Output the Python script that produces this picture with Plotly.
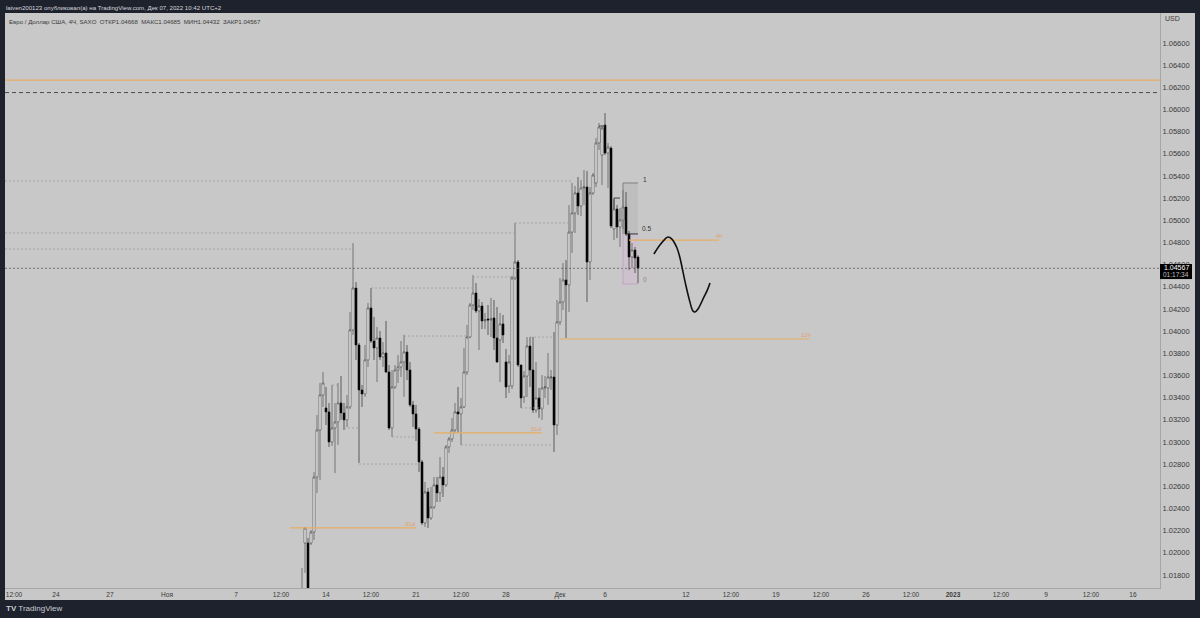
"""
EUR/USD 4h TradingView snapshot redrawn with Plotly
"""

import plotly.graph_objects as go

# Bars run left to right, one bar every 4 hours (bar 0 is the first visible candle)
opens = [1.01394, 1.02088, 1.02088, 1.02088, 1.02187, 1.02683, 1.03108, 1.03424, 1.03307, 1.03271, 1.03000, 1.03126, 1.03180, 1.03352, 1.03262, 1.03199, 1.03316, 1.04011, 1.04389,
         1.03875, 1.03469, 1.03433, 1.03740, 1.04209, 1.03911, 1.03848, 1.03938, 1.03767, 1.03803, 1.03631, 1.03126, 1.03496, 1.03649, 1.03677, 1.03722, 1.03812, 1.03649, 1.03334, 1.03253,
         1.03117, 1.02820, 1.02269, 1.02549, 1.02314, 1.02413, 1.02612, 1.02540, 1.02684, 1.02612, 1.02955, 1.03027, 1.03108, 1.03271, 1.03253, 1.03316, 1.03631, 1.03947, 1.04236, 1.04344,
         1.04182, 1.04227, 1.04092, 1.04110, 1.04101, 1.04119, 1.03938, 1.03920, 1.04065, 1.03722, 1.03505, 1.03505, 1.04480, 1.04624, 1.03695, 1.03406, 1.03595, 1.03866, 1.03649, 1.03288,
         1.03397, 1.03298, 1.03487, 1.03487, 1.03577, 1.03586, 1.03153, 1.04083, 1.04263, 1.04462, 1.04417, 1.04894, 1.05066, 1.05247, 1.05129, 1.05292, 1.05301, 1.04624, 1.05247, 1.05337,
         1.05698, 1.05589, 1.05860, 1.05607, 1.05652, 1.04922, 1.05102, 1.04940, 1.05003, 1.05120, 1.04877, 1.04669, 1.04732, 1.04668]
highs = [1.01863, 1.02232, 1.02133, 1.02205, 1.02728, 1.03243, 1.03532, 1.03631, 1.03496, 1.03352, 1.03514, 1.03352, 1.03532, 1.03595, 1.03352, 1.03424, 1.04173, 1.04795, 1.04443,
         1.03893, 1.03514, 1.03875, 1.04254, 1.04389, 1.04128, 1.04038, 1.04001, 1.03902, 1.04092, 1.03694, 1.03649, 1.03694, 1.03785, 1.03911, 1.03966, 1.03875, 1.03722, 1.03370, 1.03334,
         1.03135, 1.02838, 1.02639, 1.02585, 1.02594, 1.02684, 1.02684, 1.02864, 1.02774, 1.02973, 1.03045, 1.03216, 1.03352, 1.03496, 1.03397, 1.03848, 1.04056, 1.04254, 1.04506, 1.04434,
         1.04290, 1.04263, 1.04164, 1.04236, 1.04299, 1.04281, 1.04218, 1.04164, 1.04146, 1.03839, 1.03785, 1.04498, 1.04976, 1.04642, 1.03695, 1.03640, 1.03947, 1.03947, 1.03947, 1.03722,
         1.03487, 1.03604, 1.03595, 1.03803, 1.03649, 1.03992, 1.04281, 1.04480, 1.04615, 1.04642, 1.05138, 1.05337, 1.05310, 1.05391, 1.05364, 1.05454, 1.05445, 1.05301, 1.05427, 1.05743,
         1.05878, 1.05851, 1.05968, 1.05698, 1.05670, 1.05192, 1.05138, 1.05111, 1.05274, 1.05256, 1.04904, 1.04795, 1.04759, 1.04685]
lows = [1.01213, 1.01818, 1.01213, 1.02070, 1.02115, 1.02539, 1.02657, 1.03316, 1.03153, 1.02955, 1.02964, 1.02719, 1.02973, 1.03199, 1.03108, 1.03135, 1.03298, 1.03966, 1.03740,
        1.02811, 1.03316, 1.03406, 1.03677, 1.03893, 1.03740, 1.03541, 1.03740, 1.03677, 1.03622, 1.03108, 1.03045, 1.03478, 1.03532, 1.03586, 1.03406, 1.03559, 1.03316, 1.03135, 1.03009,
        1.02729, 1.02251, 1.02233, 1.02224, 1.02296, 1.02395, 1.02458, 1.02458, 1.02503, 1.02594, 1.02901, 1.03000, 1.03081, 1.03081, 1.02973, 1.03307, 1.03604, 1.03938, 1.04191, 1.04164,
        1.03830, 1.04019, 1.04019, 1.03965, 1.03947, 1.03830, 1.03713, 1.03541, 1.03893, 1.03397, 1.03442, 1.03478, 1.04462, 1.03677, 1.03307, 1.03352, 1.03406, 1.03496, 1.03262, 1.03262,
        1.03217, 1.03199, 1.03397, 1.03334, 1.03469, 1.02910, 1.03063, 1.04056, 1.04191, 1.03938, 1.04173, 1.04705, 1.04886, 1.05048, 1.05039, 1.05138, 1.04263, 1.04462, 1.05229, 1.05301,
        1.05635, 1.05319, 1.05589, 1.05292, 1.04931, 1.04822, 1.04840, 1.04759, 1.04922, 1.04859, 1.04552, 1.04570, 1.04525, 1.04432]
closes = [1.01664, 1.02223, 1.01349, 1.02187, 1.02683, 1.03108, 1.03424, 1.03532, 1.03271, 1.03000, 1.03126, 1.03180, 1.03352, 1.03262, 1.03199, 1.03316, 1.04011, 1.04389, 1.03875,
          1.03469, 1.03433, 1.03740, 1.04209, 1.03911, 1.03848, 1.03938, 1.03767, 1.03803, 1.03631, 1.03126, 1.03496, 1.03649, 1.03677, 1.03722, 1.03812, 1.03649, 1.03334, 1.03253, 1.03117,
          1.02820, 1.02269, 1.02549, 1.02314, 1.02413, 1.02612, 1.02540, 1.02684, 1.02612, 1.02955, 1.03027, 1.03108, 1.03271, 1.03253, 1.03316, 1.03631, 1.03947, 1.04236, 1.04344, 1.04182,
          1.04227, 1.04092, 1.04101, 1.04101, 1.04110, 1.03938, 1.03722, 1.04065, 1.03965, 1.03496, 1.03722, 1.04480, 1.04624, 1.03695, 1.03397, 1.03595, 1.03866, 1.03649, 1.03288, 1.03397,
          1.03298, 1.03487, 1.03496, 1.03586, 1.03586, 1.03153, 1.04083, 1.04263, 1.04462, 1.04417, 1.04894, 1.05066, 1.05247, 1.05129, 1.05292, 1.05301, 1.04624, 1.05247, 1.05409, 1.05698,
          1.05842, 1.05833, 1.05607, 1.05661, 1.04949, 1.05102, 1.04940, 1.05003, 1.05120, 1.04877, 1.04669, 1.04732, 1.04660, 1.04567]
bars = list(range(len(opens)))

# Axis ticks
x_ticks = [-96, -82, -64, -45, -22, -7, 8, 23, 38, 53, 68, 86, 101, 128, 143, 158, 173, 188, 203, 217, 233, 248, 263, 277]
x_labels = ['12:00', '24', '27', 'Ноя', '7', '12:00', '14', '12:00', '21', '12:00', '28', 'Дек', '6', '12',
            '12:00', '19', '12:00', '26', '12:00', '<b>2023</b>', '12:00', '9', '12:00', '16']
y_ticks = [1.018, 1.020, 1.022, 1.024, 1.026, 1.028, 1.030, 1.032, 1.034, 1.036, 1.038, 1.040, 1.042,
           1.044, 1.046, 1.048, 1.050, 1.052, 1.054, 1.056, 1.058, 1.060, 1.062, 1.064, 1.066]
x_view = [-99, 286]
y_view = [1.01682, 1.06871]

# Drawn levels: price, first bar, last bar
dotted_prices = [1.05355, 1.04886, 1.04741, 1.04976, 1.04489, 1.04389, 1.03956, 1.03947, 1.03514, 1.03126, 1.03045, 1.02801, 1.02973, 1.03307]
dotted_starts = [-99, -99, -99, 71, 57, 23, 34, 76, 10, 14, 30, 19, 53, 73]
dotted_ends = [90, 71, 17, 89, 71, 57, 55, 84, 13, 19, 38, 39, 84, 81]

orange_prices = [1.06266, 1.02224, 1.03081, 1.04822, 1.03929]
orange_starts = [-99, -4, 44, 109, 86]
orange_ends = [286, 38, 80, 139, 169]
orange_labels = ['01d', '01d', '4h', '12h']
orange_label_bars = [36, 78, 139, 168]

last_price = 1.04567
black_level = 1.06153

# Fibonacci box
fib_start, fib_end = 107, 112
fib_top, fib_mid, fib_bottom = 1.05337, 1.04877, 1.04425

# Hand drawn projection
curve_bars = [117.3, 119.3, 121, 122, 123.3, 125, 126, 127.7, 129.3, 130.3, 131, 132, 134, 135, 136]
curve_prices = [1.04696, 1.04777, 1.04831, 1.04850, 1.04831, 1.04750, 1.04660, 1.04444, 1.04264, 1.04183, 1.04173, 1.04200, 1.04309, 1.04363, 1.04435]

arrow_bars = [104, 104, 106]
arrow_prices = [1.05102, 1.05201, 1.05201]
arrow2_bars = [99, 101]
arrow2_prices = [1.05851, 1.05851]

DARK = '#1e222d'
PANEL = '#c8c8c8'
ORANGE = '#e8ae62'
TEXT = '#3a3a3a'
FONT = 'Liberation Sans'

fig = go.Figure()

for price, start, end in zip(dotted_prices, dotted_starts, dotted_ends):
    fig.add_trace(go.Scatter(x=[start, end], y=[price, price], mode='lines',
                             line=dict(color='#9c9c9c', width=0.8, dash='2px,2px')))

for price, start, end in zip(orange_prices, orange_starts, orange_ends):
    fig.add_trace(go.Scatter(x=[start, end], y=[price, price], mode='lines',
                             line=dict(color=ORANGE, width=1.2)))

fig.add_trace(go.Scatter(x=x_view, y=[black_level, black_level], mode='lines',
                         line=dict(color='#2c2c2c', width=0.8, dash='4px,3px')))
fig.add_trace(go.Scatter(x=x_view, y=[last_price, last_price], mode='lines',
                         line=dict(color='#5a5a5a', width=0.8, dash='2px,2px')))

# Candles
fig.add_trace(go.Candlestick(
    x=bars, open=opens, high=highs, low=lows, close=closes,
    increasing=dict(line=dict(color='#3c3c3c', width=0.6), fillcolor='#ffffff'),
    decreasing=dict(line=dict(color='#111111', width=0.6), fillcolor='#000000'),
    whiskerwidth=0,
))

# Fibonacci lines
fig.add_trace(go.Scatter(x=[fib_start, fib_start, fib_end], y=[fib_mid, fib_top, fib_top], mode='lines',
                         line=dict(color='#808080', width=1)))
fig.add_trace(go.Scatter(x=[fib_start + 1, fib_end], y=[fib_mid, fib_mid], mode='lines',
                         line=dict(color='#333333', width=1)))
fig.add_trace(go.Scatter(x=[fib_start, fib_start, fib_end], y=[fib_mid, fib_bottom, fib_bottom], mode='lines',
                         line=dict(color='#c0a5c2', width=1)))

fig.add_trace(go.Scatter(x=arrow_bars, y=arrow_prices, mode='lines', line=dict(color='#444444', width=1)))
fig.add_trace(go.Scatter(x=arrow2_bars, y=arrow2_prices, mode='lines', line=dict(color='#444444', width=1)))

fig.add_trace(go.Scatter(x=curve_bars, y=curve_prices, mode='lines',
                         line=dict(color='#111111', width=1.6, shape='spline')))

shapes = [
    # light panel with the chart, price axis and time axis on it
    dict(type='rect', xref='paper', yref='paper', x0=0, x1=1.0303, y0=-0.0209, y1=1,
         fillcolor=PANEL, line=dict(width=0), layer='below'),
    dict(type='rect', xref='x', yref='y', x0=fib_start, x1=fib_end, y0=fib_mid, y1=fib_top,
         fillcolor='#bebebe', line=dict(width=0), layer='below'),
    dict(type='rect', xref='x', yref='y', x0=fib_start, x1=fib_end, y0=fib_bottom, y1=fib_mid,
         fillcolor='#cdc1ce', line=dict(width=0), layer='below'),
    # last price box
    dict(type='rect', xref='paper', yref='y', x0=1.0, x1=1.0277, y0=1.04470, y1=1.04606,
         fillcolor='#000000', line=dict(width=0)),
]

annotations = [
    dict(xref='paper', yref='paper', x=-0.001, y=1.0087, text='laiven200123 опубликовал(а) на TradingView.com, Дек 07, 2022 10:42 UTC+2',
         showarrow=False, xanchor='left', yanchor='middle', font=dict(size=6.1, color='#d5d7dc', family=FONT)),
    dict(xref='paper', yref='paper', x=0.0015, y=0.986, text='Евро / Доллар США, 4Ч, SAXO  ОТКР1.04668  МАКС1.04685  МИН1.04432  ЗАКР1.04567',
         showarrow=False, xanchor='left', yanchor='middle', font=dict(size=6.1, color=TEXT, family=FONT)),
    dict(xref='paper', yref='paper', x=1.0025, y=0.9896, text='USD', showarrow=False, xanchor='left', yanchor='middle',
         font=dict(size=7, color=TEXT, family=FONT)),
    dict(xref='paper', yref='paper', x=-0.001, y=-0.0365, text='<b>TV</b> TradingView', showarrow=False, xanchor='left', yanchor='middle',
         font=dict(size=8, color='#c9ccd3', family=FONT)),
    dict(xref='paper', yref='y', x=1.0139, y=1.04570, text='1.04567', showarrow=False, xanchor='center', yanchor='middle',
         font=dict(size=7, color='#ffffff', family=FONT)),
    dict(xref='paper', yref='y', x=1.0139, y=1.04507, text='01:17:34', showarrow=False, xanchor='center', yanchor='middle',
         font=dict(size=6.5, color='#c0c0c0', family=FONT)),
    dict(x=fib_end + 1, y=fib_top + 0.00035, text='1', showarrow=False, xanchor='left', yanchor='middle',
         font=dict(size=6.5, color='#333333', family=FONT)),
    dict(x=fib_end + 0.8, y=fib_mid + 0.00045, text='0.5', showarrow=False, xanchor='left', yanchor='middle',
         font=dict(size=6.5, color='#333333', family=FONT)),
    dict(x=fib_end + 1, y=fib_bottom + 0.00045, text='0', showarrow=False, xanchor='left', yanchor='middle',
         font=dict(size=6.5, color='#9a7a9c', family=FONT)),
]
for price, bar, label in zip(orange_prices[1:], orange_label_bars, orange_labels):
    annotations.append(dict(x=bar, y=price + 0.00035, text=label, showarrow=False, xanchor='center', yanchor='middle',
                            font=dict(size=6, color='#e0a070', family=FONT)))

fig.update_layout(
    width=1200,
    height=618,
    margin=dict(l=5, r=40, t=13, b=30, pad=0),
    paper_bgcolor=DARK,
    plot_bgcolor='rgba(0,0,0,0)',
    showlegend=False,
    boxgap=0.06,
    shapes=shapes,
    annotations=annotations,
    font=dict(family=FONT, size=7.5, color=TEXT),
    xaxis=dict(range=x_view, tickmode='array', tickvals=x_ticks, ticktext=x_labels, showgrid=False, zeroline=False,
               rangeslider=dict(visible=False), showline=True, linecolor='#a6a6a6', linewidth=1, ticks='',
               automargin=False, ticklabeloverflow='allow', tickfont=dict(size=6.6)),
    yaxis=dict(range=y_view, side='right', tickmode='array', tickvals=y_ticks, tickformat='.5f', showgrid=False, zeroline=False,
               showline=True, linecolor='#a6a6a6', linewidth=1, ticks='', automargin=False),
)

fig.write_html("out.html", config={'displayModeBar': False}, post_script="document.body.style.margin='0';")
